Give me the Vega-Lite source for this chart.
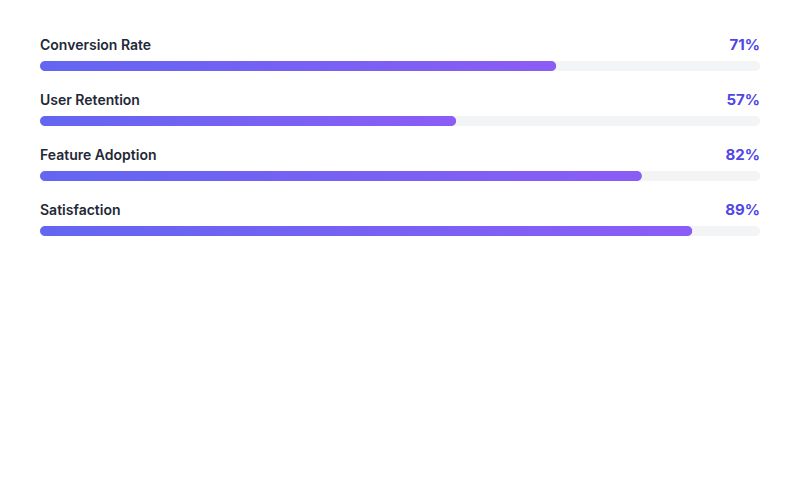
{
  "$schema": "https://vega.github.io/schema/vega-lite/v6.json",
  "width": 720,
  "height": 165,
  "autosize": {"type": "none"},
  "padding": {"left": 40, "top": 66, "right": 40, "bottom": 269},
  "background": "white",
  "config": {"view": {"stroke": null}},
  "data": {
    "values": [
      {"metric": "Conversion Rate", "value": 71.7, "label": "71%", "full": 100},
      {"metric": "User Retention", "value": 57.8, "label": "57%", "full": 100},
      {"metric": "Feature Adoption", "value": 83.6, "label": "82%", "full": 100},
      {"metric": "Satisfaction", "value": 90.6, "label": "89%", "full": 100}
    ]
  },
  "encoding": {
    "y": {
      "field": "metric",
      "type": "nominal",
      "sort": null,
      "scale": {"type": "point", "padding": 0},
      "axis": null
    }
  },
  "layer": [
    {
      "mark": {"type": "bar", "size": 10, "cornerRadius": 5, "color": "#f3f4f6"},
      "encoding": {
        "x": {"field": "full", "type": "quantitative", "scale": {"domain": [0, 100], "nice": false, "zero": true}, "axis": null}
      }
    },
    {
      "mark": {
        "type": "bar",
        "size": 10,
        "cornerRadius": 5,
        "fill": {
          "gradient": "linear",
          "x1": 0, "y1": 0, "x2": 1, "y2": 0,
          "stops": [
            {"offset": 0, "color": "#6366f1"},
            {"offset": 1, "color": "#8b5cf6"}
          ]
        }
      },
      "encoding": {
        "x": {"field": "value", "type": "quantitative", "scale": {"domain": [0, 100], "nice": false, "zero": true}, "axis": null}
      }
    },
    {
      "mark": {"type": "text", "align": "left", "baseline": "alphabetic", "dy": -16, "font": "Inter", "fontSize": 14, "fontWeight": 600, "color": "#1f2937"},
      "encoding": {
        "x": {"datum": 0, "type": "quantitative"},
        "text": {"field": "metric"}
      }
    },
    {
      "mark": {"type": "text", "align": "right", "baseline": "alphabetic", "dy": -16, "font": "Inter", "fontSize": 15, "fontWeight": 700, "color": "#4f46e5"},
      "encoding": {
        "x": {"datum": 100, "type": "quantitative"},
        "text": {"field": "label"}
      }
    }
  ]
}
